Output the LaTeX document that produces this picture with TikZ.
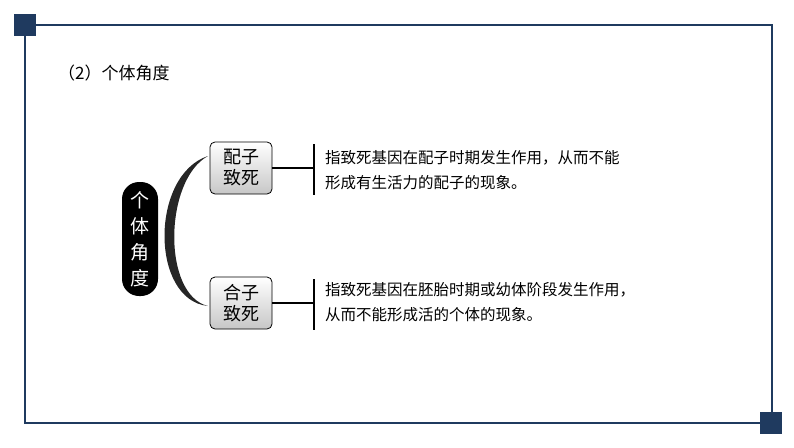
\documentclass[tikz,border=0pt]{standalone}
\usepackage{fontspec}
\newfontfamily\cjk{Noto Sans CJK SC}
\definecolor{navy}{HTML}{1F3A5F}
\begin{document}
\begin{tikzpicture}[x=1pt,y=-1pt,
  sq/.style={fill=navy,draw=none},
  tag/.style={draw=black,line width=0.8pt,rounded corners=5pt,top color=white,bottom color=black!22,minimum width=62pt,minimum height=52pt,align=center,font=\cjk\fontsize{18}{21}\selectfont,inner sep=2pt},
  body/.style={anchor=west,align=left,font=\cjk\fontsize{15.5}{25}\selectfont,inner sep=0pt},
  link/.style={line width=1.6pt}]
\useasboundingbox (0,0) rectangle (794,447);
\draw[navy,line width=1.8pt] (25,25) rectangle (772,423);
\fill[sq] (14,14) rectangle (36,36);
\fill[sq] (760,412) rectangle (782,434);
\node[anchor=west,font=\cjk\fontsize{17}{20}\selectfont,inner sep=0pt] (title) at (58,73) {（2）个体角度};
\node[fill=black,text=white,minimum width=36pt,minimum height=114pt,align=center,font=\cjk\fontsize{19}{26}\selectfont,inner sep=0pt,rounded corners=17pt] (root) at (140,239) {个\\体\\角\\度};
\fill[black!85] (208,156) .. controls (150,175) and (150,300) .. (208,306) .. controls (162,295) and (164,180) .. (208,156) -- cycle;
\node[tag] (a) at (241,168) {配子\\致死};
\node[tag] (b) at (241,303) {合子\\致死};
\coordinate (ba) at (314,168);
\coordinate (bb) at (314,303);
\draw[link] (a.east) -- (ba);
\draw[link] (b.east) -- (bb);
\draw[line width=1.2pt] (314,144) -- (314,195);
\draw[line width=1.2pt] (314,279) -- (314,330);
\node[body] (ta) at (325,170) {指致死基因在配子时期发生作用，从而不能\\形成有生活力的配子的现象。};
\node[body] (tb) at (325,302) {指致死基因在胚胎时期或幼体阶段发生作用，\\从而不能形成活的个体的现象。};
\end{tikzpicture}
\end{document}
